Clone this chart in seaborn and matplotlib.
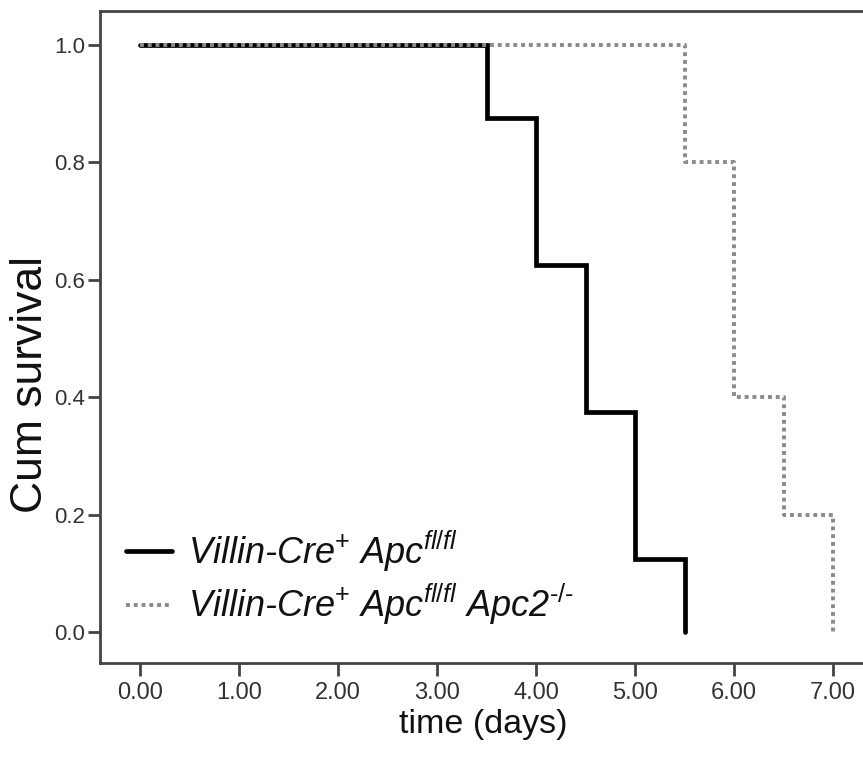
import matplotlib
matplotlib.use("Agg")
import matplotlib.pyplot as plt
import seaborn as sns
import pandas as pd

# Kaplan-Meier step data for the two genotypes
time_apc = [0.0, 3.5, 4.0, 4.5, 5.0, 5.5]
surv_apc = [1.0, 0.875, 0.625, 0.375, 0.125, 0.0]
time_apc2 = [0.0, 5.5, 6.0, 6.5, 7.0]
surv_apc2 = [1.0, 0.8, 0.4, 0.2, 0.0]

x_ticks = [0, 1, 2, 3, 4, 5, 6, 7]
x_tick_labels = ["0.00", "1.00", "2.00", "3.00", "4.00", "5.00", "6.00", "7.00"]
y_ticks = [0.0, 0.2, 0.4, 0.6, 0.8, 1.0]
y_tick_labels = ["0.0", "0.2", "0.4", "0.6", "0.8", "1.0"]

label_apc = r"Villin-Cre$^{+}$ Apc$^{\mathit{fl/fl}}$"
label_apc2 = r"Villin-Cre$^{+}$ Apc$^{\mathit{fl/fl}}$ Apc2$^{\text{-/-}}$"

sns.set_style("white")
plt.rcParams["font.family"] = ["Liberation Sans", "DejaVu Sans"]
plt.rcParams["mathtext.fontset"] = "custom"
plt.rcParams["mathtext.rm"] = "Liberation Sans"
plt.rcParams["mathtext.it"] = "Liberation Sans:italic"

W, H = 863, 758
fig = plt.figure(figsize=(W / 100, H / 100), dpi=100)
ax = fig.add_axes([100 / W, 1 - 663 / H, (866 - 100) / W, (663 - 11) / H])

df1 = pd.DataFrame({"time": time_apc, "surv": surv_apc})
df2 = pd.DataFrame({"time": time_apc2, "surv": surv_apc2})

sns.lineplot(data=df1, x="time", y="surv", ax=ax, estimator=None, sort=False,
             drawstyle="steps-post", color="black", linewidth=3.4,
             solid_joinstyle="miter", label=label_apc)
sns.lineplot(data=df2, x="time", y="surv", ax=ax, estimator=None, sort=False,
             drawstyle="steps-post", color="#8a8a8a", linewidth=2.8,
             linestyle=(0, (1.0, 1.0)), label=label_apc2)

ax.set_xlim(-40 / 99, 7 + 33 / 99)
ax.set_ylim(-31 / 587, 1 + 34 / 587)
ax.set_xticks(x_ticks)
ax.set_xticklabels(x_tick_labels)
ax.set_yticks(y_ticks)
ax.set_yticklabels(y_tick_labels)

spine_color = "#444444"
for side in ["left", "bottom", "top", "right"]:
    ax.spines[side].set_color(spine_color)
    ax.spines[side].set_linewidth(2.0)

ax.tick_params(axis="x", direction="out", length=9.5, width=2, color=spine_color,
               labelsize=17, labelcolor="#333333", pad=4, bottom=True)
ax.tick_params(axis="y", direction="out", length=9, width=2, color=spine_color,
               labelsize=16, labelcolor="#333333", pad=1.5, left=True)

ax.set_xlabel("time (days)", fontsize=24.5, color="#111111", labelpad=4)
ax.set_ylabel("Cum survival", fontsize=32, color="#111111")
ax.yaxis.set_label_coords(-0.064, 0.4264)

leg = ax.legend(loc="lower left", bbox_to_anchor=(-0.008, 0.005), frameon=False,
                prop={"size": 26, "style": "italic"}, handlelength=1.25,
                handletextpad=0.45, labelspacing=0.22)
for t in leg.get_texts():
    t.set_color("#111111")

fig.savefig("out.png", dpi=100)
